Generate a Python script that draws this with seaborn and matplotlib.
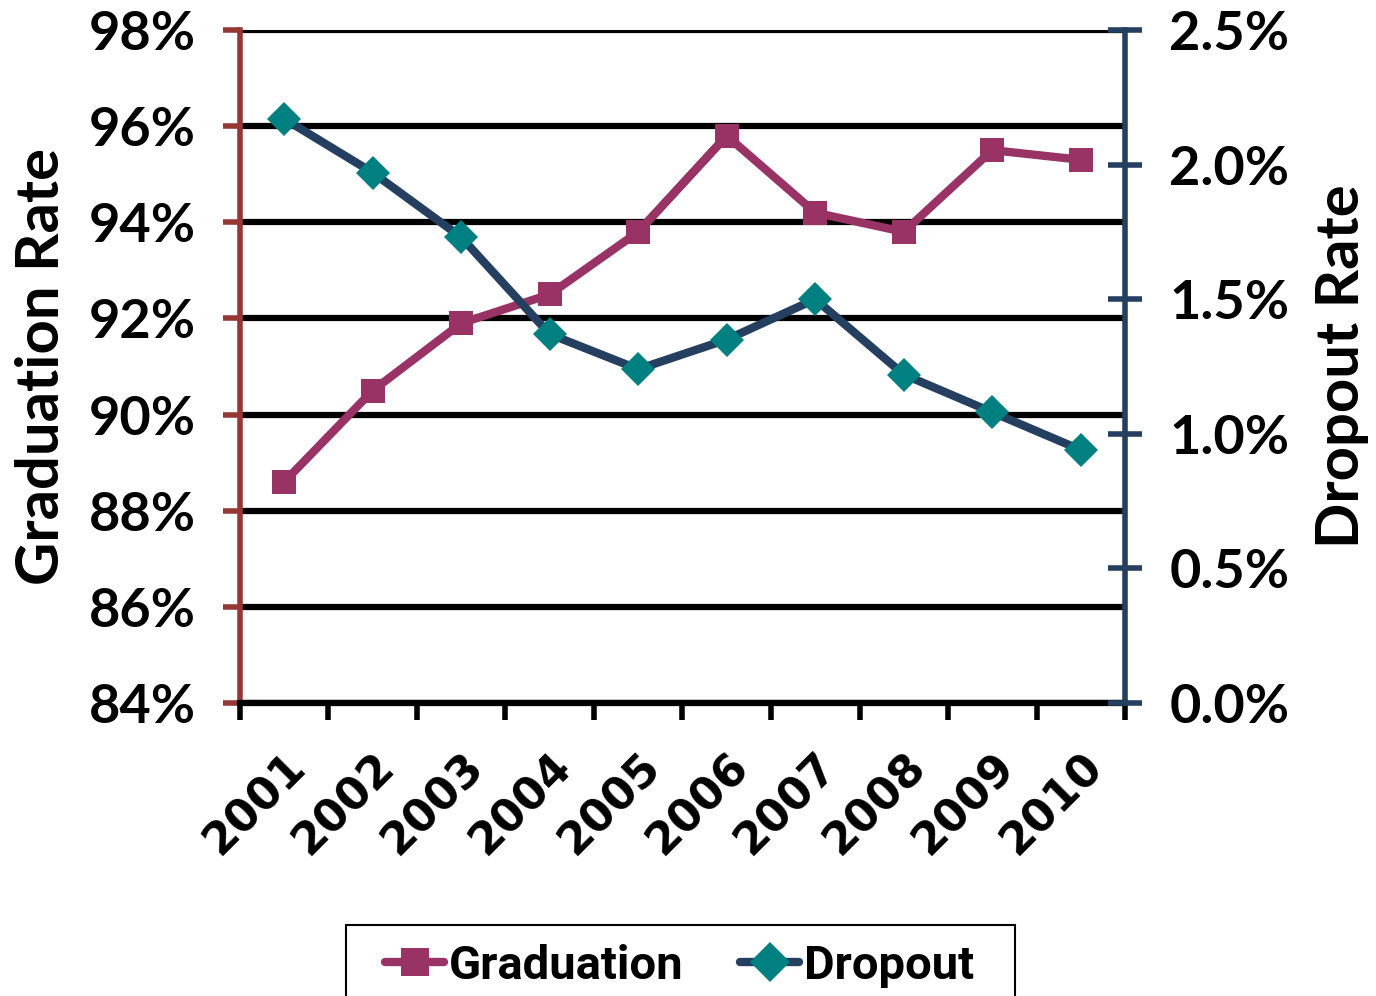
import numpy as np
import matplotlib
matplotlib.use('Agg')
import matplotlib.pyplot as plt
import seaborn as sns
from matplotlib.ticker import FixedLocator, PercentFormatter
from matplotlib.lines import Line2D
from matplotlib.patches import Rectangle

# data
years = ['2001', '2002', '2003', '2004', '2005', '2006', '2007', '2008', '2009', '2010']
graduation = [88.6, 90.5, 91.9, 92.5, 93.8, 95.8, 94.2, 93.8, 95.5, 95.3]
dropout = [2.17, 1.97, 1.73, 1.37, 1.24, 1.35, 1.50, 1.22, 1.08, 0.94]

GRAD_COLOR = '#993366'
DROP_LINE = '#243F60'
DROP_MARK = '#008080'
LEFT_SPINE = '#953735'

sns.set_style('white')
plt.rcParams['font.family'] = ['Lato', 'DejaVu Sans']
plt.rcParams['text.color'] = 'black'
plt.rcParams['axes.labelcolor'] = 'black'

fig = plt.figure(figsize=(13.76, 9.96), dpi=100)
ax = fig.add_axes([0.1744, 0.2942, 0.6432, 0.6757])
ax2 = ax.twinx()

x = np.arange(len(years))

# graduation line
sns.lineplot(x=x, y=graduation, ax=ax, color=GRAD_COLOR, linewidth=6,
             marker='s', markersize=17, markeredgewidth=0,
             markerfacecolor=GRAD_COLOR, zorder=5)
# the 2005-2006 segment is drawn in a different colour in the original
sns.lineplot(x=x[4:6], y=graduation[4:6], ax=ax, color=LEFT_SPINE, linewidth=6, zorder=4)
sns.lineplot(x=x[4:6], y=graduation[4:6], ax=ax, color=GRAD_COLOR, linewidth=0,
             marker='s', markersize=17, markeredgewidth=0, zorder=6)

# dropout line on the secondary axis
sns.lineplot(x=x, y=dropout, ax=ax2, color=DROP_LINE, linewidth=6,
             marker='D', markersize=17, markeredgewidth=0,
             markerfacecolor=DROP_MARK, zorder=5)

# left axis
ax.set_xlim(-0.5, len(years) - 0.5)
ax.set_ylim(84, 98)
ax.set_yticks(np.arange(84, 99, 2))
ax.yaxis.set_major_formatter(PercentFormatter(decimals=0))
ax.grid(axis='y', color='black', linewidth=4.5)
ax.set_axisbelow(True)

ax.xaxis.set_major_locator(FixedLocator(np.arange(-0.5, len(years), 1.0)))
ax.xaxis.set_minor_locator(FixedLocator(x))
ax.set_xticklabels([])
ax.set_xticklabels(years, minor=True, rotation=45, ha='right',
                   rotation_mode='anchor', fontsize=32, fontweight='bold',
                   family=['DejaVu Sans'])
ax.tick_params(axis='x', which='major', direction='out', length=12, width=4,
               color='black', bottom=True)
ax.tick_params(axis='x', which='minor', length=0, pad=30, labelcolor='black')

ax.tick_params(axis='y', direction='out', length=12, width=4, color=LEFT_SPINE,
               labelsize=39, pad=20, left=True, labelcolor='black')
for lab in ax.get_yticklabels():
    lab.set_fontweight('bold')

for side in ['top', 'right']:
    ax.spines[side].set_visible(False)
ax.spines['left'].set_color(LEFT_SPINE)
ax.spines['left'].set_linewidth(4)
ax.spines['bottom'].set_color('black')
ax.spines['bottom'].set_linewidth(4.5)

ax.set_ylabel('Graduation Rate', fontsize=43, fontweight='bold', labelpad=14)

# right axis
ax2.set_ylim(0, 2.5)
ax2.set_yticks(np.arange(0, 2.51, 0.5))
ax2.yaxis.set_major_formatter(PercentFormatter(decimals=1))
ax2.tick_params(axis='y', direction='inout', length=24, width=4, color=DROP_LINE,
                labelsize=39, pad=20, labelcolor='black')
for lab in ax2.get_yticklabels():
    lab.set_fontweight('bold')
for side in ['top', 'left', 'bottom']:
    ax2.spines[side].set_visible(False)
ax2.spines['right'].set_color(DROP_LINE)
ax2.spines['right'].set_linewidth(4)
ax2.grid(False)
ax2.set_ylabel('Dropout Rate', fontsize=43, fontweight='bold', labelpad=18)

# legend at the bottom, its box runs past the figure edge
fig.patches.append(Rectangle((346 / 1376, -0.05), (1015 - 346) / 1376,
                             0.05 + 1 - 925 / 996, transform=fig.transFigure,
                             facecolor='white', edgecolor='black',
                             linewidth=1.5, zorder=0))
handles = [
    Line2D([], [], color=GRAD_COLOR, linewidth=6, marker='s', markersize=20,
           markeredgewidth=0),
    Line2D([], [], color=DROP_LINE, linewidth=6, marker='D', markersize=20,
           markeredgewidth=0, markerfacecolor=DROP_MARK),
]
leg = fig.legend(handles, ['Graduation', 'Dropout'], loc='center left',
                 bbox_to_anchor=(385 / 1376, 1 - 966 / 996), borderaxespad=0,
                 ncol=2, frameon=False,
                 handlelength=1.25, handletextpad=0.1, columnspacing=1.2,
                 borderpad=0,
                 prop={'family': ['Roboto', 'DejaVu Sans'],
                       'size': 34, 'weight': 'bold'})
for t in leg.get_texts():
    t.set_color('black')

fig.savefig('out.png', dpi=100)
